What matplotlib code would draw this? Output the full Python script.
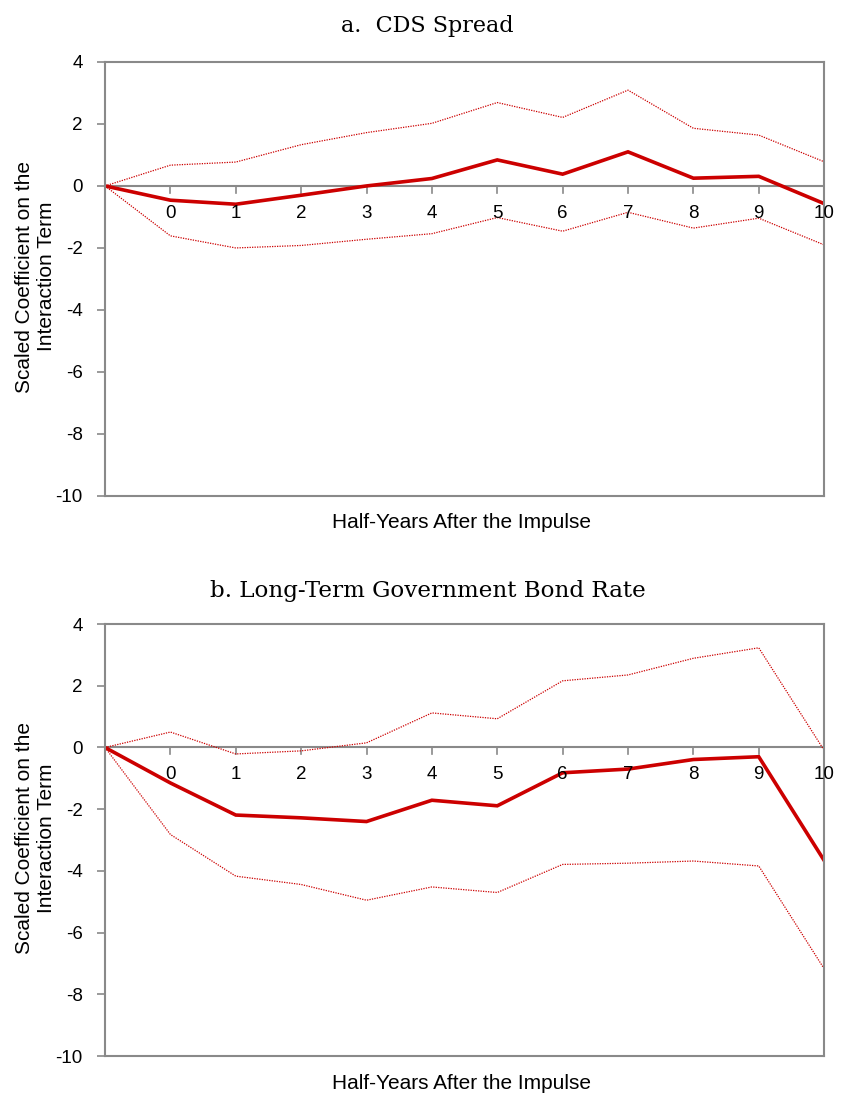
import matplotlib
matplotlib.use("Agg")
import matplotlib.pyplot as plt

# horizon: the first point (-1) is the origin at the y axis
periods = [-1, 0, 1, 2, 3, 4, 5, 6, 7, 8, 9, 10]
tick_labels = [str(i) for i in range(11)]

# panel a: CDS spread
cds_coef = [0, -0.46, -0.59, -0.30, 0.0, 0.24, 0.84, 0.38, 1.10, 0.25, 0.31, -0.57]
cds_upper = [0, 0.67, 0.77, 1.33, 1.72, 2.02, 2.69, 2.21, 3.09, 1.86, 1.64, 0.78]
cds_lower = [0, -1.61, -2.00, -1.92, -1.72, -1.54, -1.02, -1.46, -0.85, -1.36, -1.04, -1.90]

# panel b: long-term government bond rate
bond_coef = [0, -1.15, -2.19, -2.28, -2.40, -1.71, -1.89, -0.82, -0.70, -0.39, -0.30, -3.66]
bond_upper = [0, 0.50, -0.21, -0.11, 0.15, 1.12, 0.93, 2.16, 2.35, 2.89, 3.23, -0.09]
bond_lower = [0, -2.82, -4.17, -4.44, -4.95, -4.52, -4.70, -3.79, -3.75, -3.68, -3.84, -7.17]

titles = ["a.  CDS Spread", "b. Long-Term Government Bond Rate"]

RED = "#CC0000"
GREY = "#898989"

fig = plt.figure(figsize=(8.43, 11.10), dpi=100)
plt.rcParams['font.family'] = ['Liberation Sans', 'DejaVu Sans']

# axes boxes in figure fractions
boxes = [[0.1246, 0.5532, 0.853, 0.391], [0.1246, 0.0486, 0.853, 0.3892]]
title_y = [0.977, 0.468]
title_size = [16, 16.6]
panels = [(cds_coef, cds_upper, cds_lower), (bond_coef, bond_upper, bond_lower)]

for box, ty, tsize, title, (coef, up, lo) in zip(boxes, title_y, title_size, titles, panels):
    ax = fig.add_axes(box)
    ax.plot(periods, up, color=RED, lw=0.9, ls=(0, (1, 1)))
    ax.plot(periods, lo, color=RED, lw=0.9, ls=(0, (1, 1)))
    ax.plot(periods, coef, color=RED, lw=2.6, solid_joinstyle='miter')

    ax.set_xlim(-1, 10)
    ax.set_ylim(-10, 4)
    ax.set_yticks(range(-10, 5, 2))
    ax.set_yticklabels([str(v) for v in range(-10, 5, 2)], fontsize=13.5)

    # x axis crosses at zero, ticks point down from it
    ax.spines['bottom'].set_visible(False)
    ax.axhline(0, color=GREY, lw=1.5, zorder=1)
    for x in range(0, 11):
        ax.plot([x, x], [0, -0.22], color=GREY, lw=1.2, clip_on=False, zorder=1)
        ax.text(x, -0.6, tick_labels[x], ha='center', va='top', fontsize=13.5)
    ax.set_xticks([])
    ax.plot([-1, 10], [-10, -10], color=GREY, lw=1.5, clip_on=False, zorder=1)

    for s in ['left', 'right', 'top']:
        ax.spines[s].set_color(GREY)
        ax.spines[s].set_linewidth(1.5)
    ax.tick_params(axis='y', colors=GREY, length=6, width=1.2, labelcolor='black', pad=10)

    # axis titles
    ymid = box[1] + box[3] / 2 + 0.002
    fig.text(35.5 / 843, ymid, "Scaled Coefficient on the\nInteraction Term", rotation=90,
             ha='center', va='center', fontsize=15, linespacing=1.15, multialignment='center')
    fig.text(462 / 843, box[1] - 27 / 1110, "Half-Years After the Impulse",
             ha='center', va='center', fontsize=15)

    fig.text(0.507, ty, title, ha='center', va='center', fontsize=tsize, family='DejaVu Serif')

fig.savefig("out.png", dpi=100)
